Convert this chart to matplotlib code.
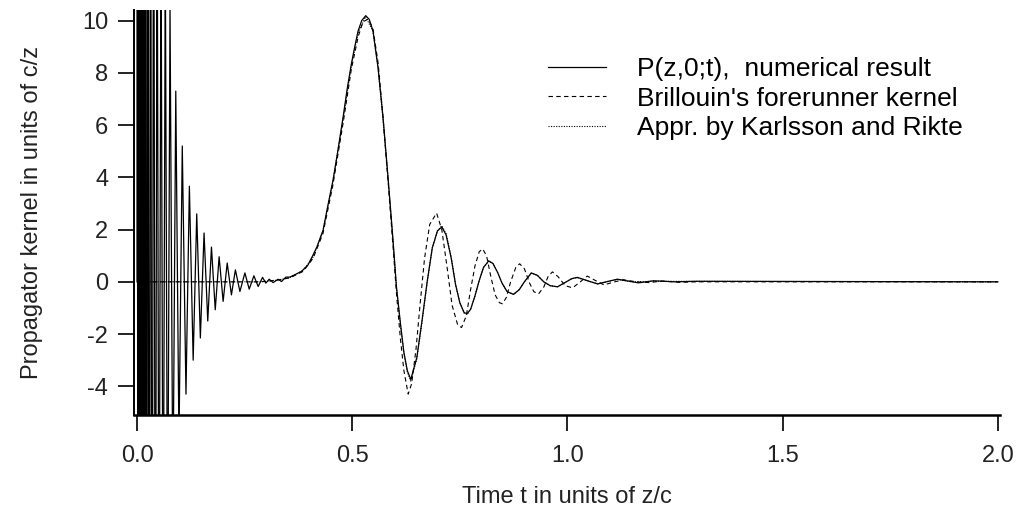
import numpy as np
import matplotlib.pyplot as plt

plt.rcParams['font.family'] = ['Liberation Sans', 'DejaVu Sans']

# numerical result P(z,0;t): Sommerfeld ringing (clipped near t=0) followed by the Brillouin pulse
t_num = [0.0, 0.0009, 0.0017, 0.0026, 0.0035, 0.0044, 0.0055, 0.0065, 0.0077, 0.0089,
         0.0103, 0.0118, 0.0135, 0.0153, 0.0174, 0.0197, 0.0223, 0.0251, 0.0281, 0.0313,
         0.0348, 0.0385, 0.0425, 0.0466, 0.0510, 0.0557, 0.0606, 0.0657, 0.0710, 0.0766,
         0.0833, 0.0900, 0.0974, 0.1051, 0.1137, 0.1216, 0.1304, 0.1387, 0.1471, 0.1557,
         0.1643, 0.1729, 0.1817, 0.1907, 0.2000, 0.2095, 0.2193, 0.2285, 0.2390, 0.2506,
         0.2606, 0.2715, 0.2814, 0.2916, 0.2993, 0.3070, 0.3162, 0.3278, 0.3357, 0.3457,
         0.3550, 0.3666, 0.3821, 0.3974, 0.4090, 0.4183, 0.4323, 0.4432, 0.4555, 0.4664,
         0.4787, 0.4884, 0.4981, 0.5058, 0.5135, 0.5220, 0.5313, 0.5394, 0.5483, 0.5599,
         0.5715, 0.5831, 0.5947, 0.6026, 0.612, 0.620, 0.628, 0.636, 0.650, 0.662,
         0.674, 0.686, 0.698, 0.708, 0.718, 0.730, 0.740, 0.750, 0.760, 0.767,
         0.775, 0.785, 0.795, 0.805, 0.817, 0.827, 0.838, 0.848, 0.860, 0.875,
         0.888, 0.900, 0.916, 0.930, 0.945, 0.960, 0.977, 0.995, 1.010, 1.023,
         1.045, 1.070, 1.095, 1.116, 1.140, 1.165, 1.200, 1.250, 1.300, 2.000]
p_num = [0.0, 100, -100, 100, -100, 95, -90, 85, -80, 75,
         -70, 65, -60, 55, -50, 45, -40, 36, -32, 28,
         -25, 22, -19, 17, -15, 14, -13, 12.5, -11.5, 10.6,
         -8.8, 7.3, -6.2, 5.2, -4.3, 3.66, -3.0, 2.6, -2.15, 1.87,
         -1.5, 1.33, -1.07, 0.96, -0.75, 0.72, -0.5, 0.46, -0.37, 0.34,
         -0.28, 0.23, -0.18, 0.17, -0.05, 0.1, -0.03, 0.1, 0.01, 0.18,
         0.18, 0.27, 0.4, 0.65, 1.03, 1.35, 1.98, 2.9, 3.9, 5.0,
         6.3, 7.4, 8.35, 9.0, 9.6, 10.0, 10.19, 10.05, 9.6, 8.2,
         6.3, 4.0, 1.6, -0.18, -1.6, -2.7, -3.4, -3.74, -2.9, -1.5,
         0.0, 1.3, 1.95, 2.1, 1.8, 0.9, -0.1, -0.8, -1.18, -1.22,
         -1.05, -0.55, 0.05, 0.55, 0.8, 0.7, 0.35, -0.05, -0.38, -0.48,
         -0.3, 0.0, 0.34, 0.25, 0.0, -0.15, -0.19, -0.02, 0.12, 0.17,
         0.05, -0.08, 0.02, 0.1, 0.03, -0.04, 0.04, 0.0, 0.02, 0.0]

# Brillouin's forerunner kernel
t_bri = [0.0, 0.28, 0.30, 0.33, 0.355, 0.386, 0.409, 0.432, 0.455, 0.479,
         0.498, 0.514, 0.525, 0.537, 0.548, 0.56, 0.571, 0.583, 0.595, 0.603,
         0.612, 0.620, 0.630, 0.638, 0.648, 0.658, 0.668, 0.680, 0.696, 0.708,
         0.720, 0.732, 0.745, 0.754, 0.765, 0.775, 0.785, 0.795, 0.803, 0.812,
         0.822, 0.832, 0.842, 0.849, 0.858, 0.868, 0.880, 0.889, 0.900, 0.912,
         0.922, 0.933, 0.945, 0.955, 0.965, 0.978, 0.995, 1.012, 1.030, 1.046,
         1.065, 1.085, 1.105, 1.130, 1.160, 1.190, 1.220, 1.260, 1.300, 2.000]
p_bri = [0.0, 0.0, 0.02, 0.08, 0.15, 0.4, 0.9, 1.85, 3.7, 6.1,
         8.15, 9.4, 9.95, 10.06, 9.7, 8.4, 6.4, 3.9, 1.3, -0.5,
         -2.2, -3.4, -4.3, -3.9, -2.6, -0.8, 0.9, 2.2, 2.63, 2.0,
         0.6, -0.9, -1.65, -1.75, -1.3, -0.3, 0.6, 1.15, 1.26, 1.0,
         0.2, -0.5, -0.8, -0.84, -0.6, 0.0, 0.55, 0.69, 0.5, -0.05,
         -0.38, -0.46, -0.2, 0.2, 0.38, 0.2, -0.15, -0.23, 0.0, 0.22,
         0.05, -0.12, -0.02, 0.08, 0.0, -0.03, 0.03, -0.02, 0.0, 0.0]

# approximation by Karlsson and Rikte (lies almost on top of the numerical result)
t_kr = [0.0, 0.29, 0.33, 0.355, 0.386, 0.409, 0.432, 0.455, 0.479, 0.498,
        0.514, 0.531, 0.548, 0.56, 0.571, 0.583, 0.595, 0.603, 0.612, 0.620,
        0.628, 0.636, 0.650, 0.662, 0.674, 0.686, 0.698, 0.708, 0.718, 0.730,
        0.740, 0.750, 0.760, 0.767, 0.775, 0.785, 0.795, 0.805, 0.817, 0.827,
        0.838, 0.848, 0.860, 0.875, 0.888, 0.900, 0.916, 0.930, 0.945, 0.960,
        0.977, 0.995, 1.010, 1.023, 1.045, 1.070, 1.095, 1.116, 1.150, 1.200, 2.000]
p_kr = [0.0, 0.0, 0.07, 0.17, 0.44, 0.95, 1.95, 3.85, 6.25, 8.3,
        9.55, 10.15, 9.6, 8.2, 6.3, 4.0, 1.5, -0.25, -1.65, -2.75,
        -3.45, -3.8, -2.95, -1.55, -0.05, 1.3, 1.95, 2.15, 1.85, 0.95,
        -0.1, -0.8, -1.2, -1.25, -1.05, -0.55, 0.05, 0.55, 0.8, 0.7,
        0.35, -0.05, -0.38, -0.48, -0.3, 0.0, 0.33, 0.25, 0.0, -0.15,
        -0.19, -0.02, 0.12, 0.16, 0.05, -0.08, 0.02, 0.09, 0.0, 0.02, 0.0]

fig = plt.figure(figsize=(10.2, 5.08), dpi=100)
ax = fig.add_axes([0.1314, 0.183, 0.849, 0.797])

ax.plot(t_num, p_num, color='black', lw=0.9, label='P(z,0;t),  numerical result')
ax.plot(t_bri, p_bri, color='black', lw=0.8, linestyle=(0, (4, 3)), label="Brillouin's forerunner kernel")
ax.plot(t_kr, p_kr, color='black', lw=0.8, linestyle=(0, (1, 1.3)), label='Appr. by Karlsson and Rikte')

ax.set_xlim(-0.007, 2.005)
ax.set_ylim(-5.1, 10.4)
ax.set_xticks([0.0, 0.5, 1.0, 1.5, 2.0])
ax.set_xticklabels(['0.0', '0.5', '1.0', '1.5', '2.0'])
ax.set_yticks([-4, -2, 0, 2, 4, 6, 8, 10])
ax.set_yticklabels(['-4', '-2', '0', '2', '4', '6', '8', '10'])

for side in ['top', 'right']:
    ax.spines[side].set_visible(False)
ax.spines['left'].set_linewidth(1.4)
ax.spines['bottom'].set_linewidth(1.8)
ax.tick_params(axis='both', direction='out', length=11.5, width=1.4, labelsize=17, color='#222222',
               labelcolor='#222222')
ax.tick_params(axis='y', pad=7)
ax.tick_params(axis='x', pad=10)

ax.set_xlabel('Time t in units of z/c', fontsize=17, color='#222222', labelpad=14)
ax.set_ylabel('Propagator kernel in units of c/z', fontsize=17, color='#222222', labelpad=28)

ax.legend(loc='upper left', bbox_to_anchor=(0.537, 0.887), bbox_transform=fig.transFigure,
          frameon=False, fontsize=19, handlelength=2.2, handletextpad=1.17,
          labelspacing=0.2, borderpad=0, borderaxespad=0)

fig.savefig('out.png', dpi=100)
